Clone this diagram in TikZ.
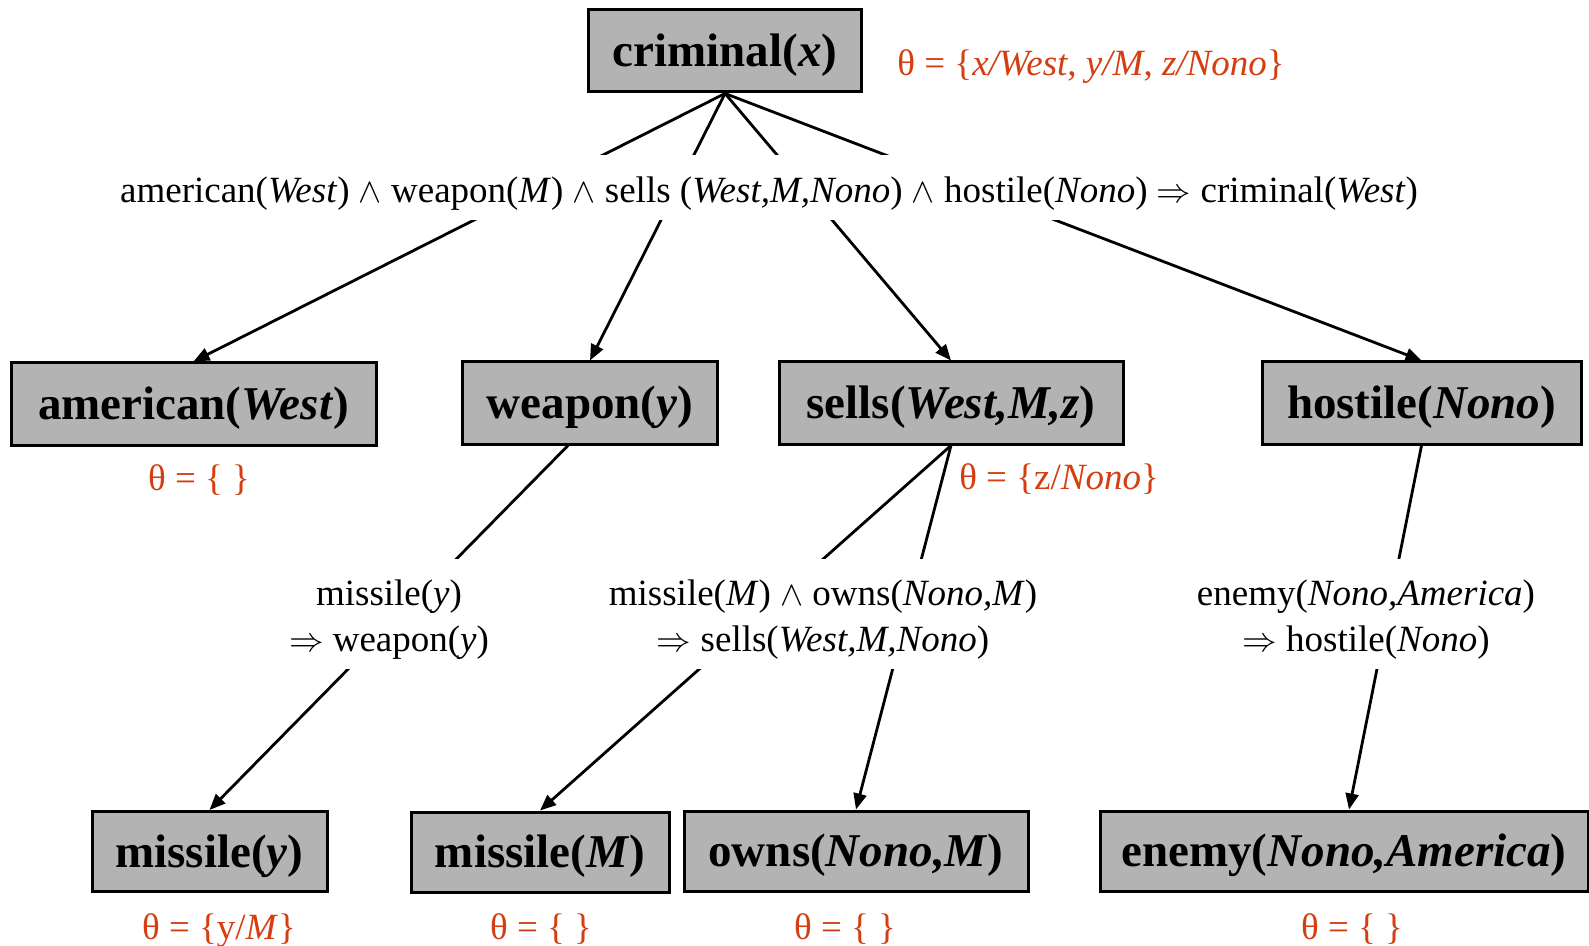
\documentclass[tikz,border=0pt]{standalone}
\usepackage{fontspec}
\setmainfont{Liberation Serif}
\usetikzlibrary{arrows.meta}
\definecolor{boxgray}{RGB}{179,179,179}
\definecolor{thetared}{RGB}{212,62,16}
\newcommand{\bigf}{\fontsize{23.5pt}{28pt}\selectfont\bfseries}
\newcommand{\medf}{\fontsize{18.5pt}{23.3pt}\selectfont}
\newcommand{\toprule}{\rule{0pt}{18.4pt}}
\begin{document}
\begin{tikzpicture}[x=0.5pt,y=-0.5pt,
  box/.style={draw=black, line width=1.5pt, fill=boxgray, minimum height=41pt, inner sep=0pt, font=\bigf, text height=20.6pt, text depth=5pt},
  theta/.style={text=thetared, font=\medf, inner sep=0pt, text height=16.8pt, text depth=4pt},
  rulebox/.style={fill=white, font=\medf, align=center, inner sep=0pt},
  conn/.style={line width=1.4pt},
  arr/.style={conn, -{Triangle[length=8pt,width=6.5pt]}}]
\useasboundingbox (0,0) rectangle (1589,946);
% boxes
\node[box, minimum width=136.5pt] (crim) at (725,51) {criminal(\textit{x})};
\node[box, minimum width=182.5pt] (amer) at (193.5,404) {american(\textit{West})};
\node[box, minimum width=127.5pt] (weap) at (590,403) {weapon(\textit{y})};
\node[box, minimum width=172pt] (sells) at (951,403) {sells(\textit{West,M,z})};
\node[box, minimum width=159.5pt] (host) at (1421.5,403) {hostile(\textit{Nono})};
\node[box, minimum width=117.5pt, minimum height=40pt] (missy) at (209.5,851.5) {missile(\textit{y})};
\node[box, minimum width=129pt, minimum height=40pt] (missM) at (540,852) {missile(\textit{M})};
\node[box, minimum width=172pt, minimum height=40pt] (owns) at (856,851) {owns(\textit{Nono,M})};
\node[box, minimum width=244pt, minimum height=40pt] (enemy) at (1344,851) {enemy(\textit{Nono,America})};
% connectors
\draw[arr] (crim.south) -- (amer.north);
\draw[arr] (crim.south) -- (weap.north);
\draw[arr] (crim.south) -- (sells.north);
\draw[arr] (crim.south) -- (host.north);
\draw[arr] ([xshift=-11pt]weap.south) -- (missy.north);
\draw[arr] (sells.south) -- (missM.north);
\draw[arr] (sells.south) -- (owns.north);
\draw[arr] (host.south) -- ([xshift=2.5pt]enemy.north);
% rule texts (white background interrupts connectors)
\node[rulebox, minimum height=32.5pt, text height=18.8pt, text depth=4pt] (r0) at (769,188) {american(\textit{West}) $\wedge$ weapon(\textit{M}) $\wedge$ sells (\textit{West,M,Nono}) $\wedge$ hostile(\textit{Nono}) $\Rightarrow$ criminal(\textit{West})};
\node[rulebox, minimum height=55pt] (r1) at (389,614) {\toprule missile(\textit{y})\\$\Rightarrow$ weapon(\textit{y})};
\node[rulebox, minimum height=55pt] (r2) at (823,614) {\toprule missile(\textit{M}) $\wedge$ owns(\textit{Nono,M})\\$\Rightarrow$ sells(\textit{West,M,Nono})};
\node[rulebox, minimum height=55pt] (r3) at (1366,614) {\toprule enemy(\textit{Nono,America})\\$\Rightarrow$ hostile(\textit{Nono})};
% substitutions
\node[theta] (t0) at (1091,63) {θ = \{\textit{x/West}, \textit{y/M}, \textit{z/Nono}\}};
\node[theta] (t1) at (199,478) {θ = \{ \}};
\node[theta] (t2) at (1059,477) {θ = \{z/\textit{Nono}\}};
\node[theta] (t3) at (219,927) {θ = \{y/\textit{M}\}};
\node[theta] (t4) at (541,927) {θ = \{ \}};
\node[theta] (t5) at (845,927) {θ = \{ \}};
\node[theta] (t6) at (1352,927) {θ = \{ \}};
\end{tikzpicture}
\end{document}
